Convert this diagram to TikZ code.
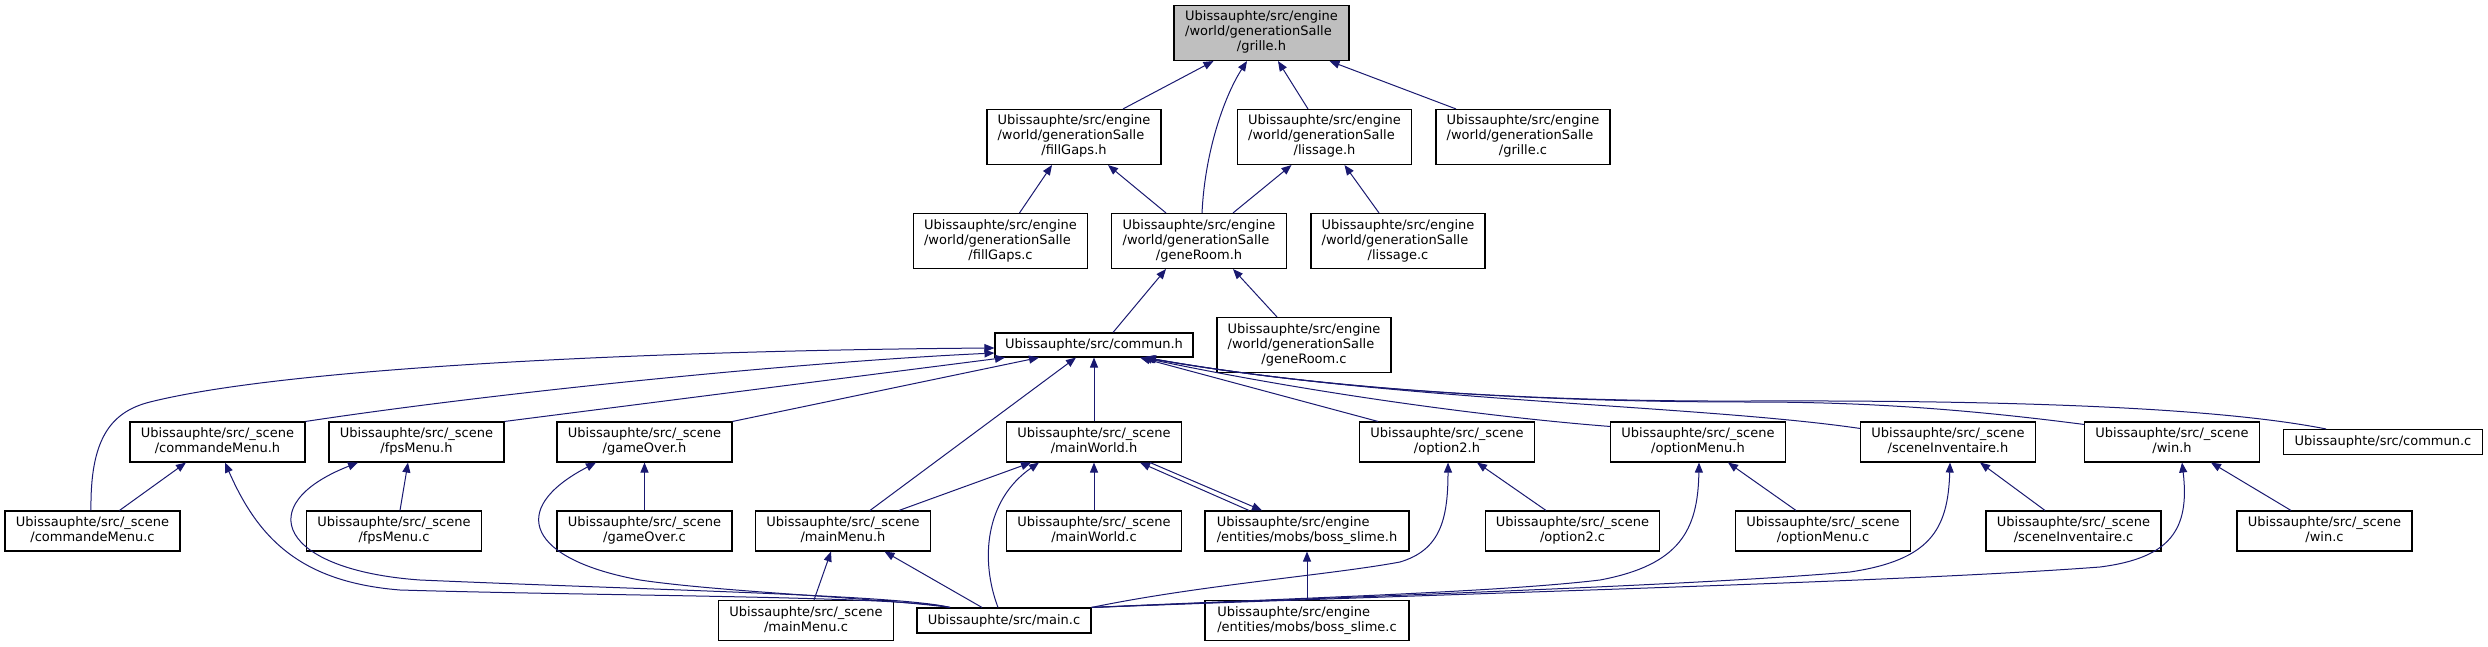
\documentclass[tikz,border=0pt]{standalone}
\usepackage{fontspec}
\setmainfont{DejaVu Sans}
\usetikzlibrary{arrows.meta}
\definecolor{edgec}{HTML}{191970}
\definecolor{rootfill}{HTML}{BFBFBF}
\newcommand{\lblii}[2]{\begin{tabular}{@{}l@{}}#1\\\multicolumn{1}{@{}c@{}}{#2}\end{tabular}}
\newcommand{\lbliii}[3]{\begin{tabular}{@{}l@{}}#1\\#2\\\multicolumn{1}{@{}c@{}}{#3}\end{tabular}}
\begin{document}
\begin{tikzpicture}[x=1pt,y=-1pt,
  box/.style={draw=black,fill=white,line width=1.1pt,inner sep=0pt,minimum width=175pt,font=\fontsize{13}{15}\selectfont},
  bi/.style={box,minimum height=25pt},
  bii/.style={box,minimum height=40pt},
  biii/.style={box,minimum height=55pt},
  edg/.style={draw=edgec,line width=1pt,-{Triangle[length=10pt,width=8pt]}}]
\useasboundingbox (0,0) rectangle (2488,647);
% row 0-2
\node[biii,fill=rootfill] (grilleH) at (1261.5,33) {\lbliii{Ubissauphte/src/engine}{/world/generationSalle}{/grille.h}};
\node[biii,minimum width=174pt] (fillGapsH) at (1074,137) {\lbliii{Ubissauphte/src/engine}{/world/generationSalle}{/fillGaps.h}};
\node[biii,minimum width=174pt] (lissageH) at (1324.5,137) {\lbliii{Ubissauphte/src/engine}{/world/generationSalle}{/lissage.h}};
\node[biii,minimum width=174pt] (grilleC) at (1523,137) {\lbliii{Ubissauphte/src/engine}{/world/generationSalle}{/grille.c}};
\node[biii,minimum width=174pt] (fillGapsC) at (1000.5,241) {\lbliii{Ubissauphte/src/engine}{/world/generationSalle}{/fillGaps.c}};
\node[biii] (geneRoomH) at (1199,241) {\lbliii{Ubissauphte/src/engine}{/world/generationSalle}{/geneRoom.h}};
\node[biii,minimum width=174pt] (lissageC) at (1398,241) {\lbliii{Ubissauphte/src/engine}{/world/generationSalle}{/lissage.c}};
\node[bi,minimum width=198pt,minimum height=24pt] (communH) at (1094,345) {Ubissauphte/src/commun.h};
\node[biii,minimum width=174pt] (geneRoomC) at (1304,345) {\lbliii{Ubissauphte/src/engine}{/world/generationSalle}{/geneRoom.c}};
% row 3
\node[bii] (cmdH) at (217.5,442) {\lblii{Ubissauphte/src/\_scene}{/commandeMenu.h}};
\node[bii] (fpsH) at (416.5,442) {\lblii{Ubissauphte/src/\_scene}{/fpsMenu.h}};
\node[bii] (goH) at (644.5,442) {\lblii{Ubissauphte/src/\_scene}{/gameOver.h}};
\node[bii] (mwH) at (1094,442) {\lblii{Ubissauphte/src/\_scene}{/mainWorld.h}};
\node[bii] (opt2H) at (1447,442) {\lblii{Ubissauphte/src/\_scene}{/option2.h}};
\node[bii] (optMH) at (1698,442) {\lblii{Ubissauphte/src/\_scene}{/optionMenu.h}};
\node[bii] (invH) at (1948,442) {\lblii{Ubissauphte/src/\_scene}{/sceneInventaire.h}};
\node[bii] (winH) at (2172,442) {\lblii{Ubissauphte/src/\_scene}{/win.h}};
\node[bi,minimum width=199pt] (communC) at (2383,442) {Ubissauphte/src/commun.c};
% row 4
\node[bii] (cmdC) at (92.5,531) {\lblii{Ubissauphte/src/\_scene}{/commandeMenu.c}};
\node[bii] (fpsC) at (394,531) {\lblii{Ubissauphte/src/\_scene}{/fpsMenu.c}};
\node[bii] (goC) at (644.5,531) {\lblii{Ubissauphte/src/\_scene}{/gameOver.c}};
\node[bii] (mmH) at (843,531) {\lblii{Ubissauphte/src/\_scene}{/mainMenu.h}};
\node[bii] (mwC) at (1094,531) {\lblii{Ubissauphte/src/\_scene}{/mainWorld.c}};
\node[bii,minimum width=204pt] (bossH) at (1307,531) {\lblii{Ubissauphte/src/engine}{/entities/mobs/boss\_slime.h}};
\node[bii,minimum width=174pt] (opt2C) at (1572.5,531) {\lblii{Ubissauphte/src/\_scene}{/option2.c}};
\node[bii] (optMC) at (1823,531) {\lblii{Ubissauphte/src/\_scene}{/optionMenu.c}};
\node[bii] (invC) at (2073.5,531) {\lblii{Ubissauphte/src/\_scene}{/sceneInventaire.c}};
\node[bii] (winC) at (2324.5,531) {\lblii{Ubissauphte/src/\_scene}{/win.c}};
% row 5
\node[bii] (mmC) at (806,620.5) {\lblii{Ubissauphte/src/\_scene}{/mainMenu.c}};
\node[bi,minimum width=174pt] (mainC) at (1004,620.5) {Ubissauphte/src/main.c};
\node[bii,minimum width=204pt] (bossC) at (1307,620.5) {\lblii{Ubissauphte/src/engine}{/entities/mobs/boss\_slime.c}};

% top edges
\draw[edg] ([xshift=49pt]fillGapsH.north) -- ([xshift=-48pt]grilleH.south);
\draw[edg] ([xshift=-16.5pt]lissageH.north) -- ([xshift=16.5pt]grilleH.south);
\draw[edg] ([xshift=-67pt]grilleC.north) -- ([xshift=68pt]grilleH.south);
\draw[edg] ([xshift=3pt]geneRoomH.north) .. controls (1205,150) and (1225,95) .. ([xshift=-14.5pt]grilleH.south);
\draw[edg] ([xshift=19pt]fillGapsC.north) -- ([xshift=-22pt]fillGapsH.south);
\draw[edg] ([xshift=-33pt]geneRoomH.north) -- ([xshift=34pt]fillGapsH.south);
\draw[edg] ([xshift=34pt]geneRoomH.north) -- ([xshift=-33pt]lissageH.south);
\draw[edg] ([xshift=-19pt]lissageC.north) -- ([xshift=20pt]lissageH.south);
\draw[edg] ([xshift=19pt]communH.north) -- ([xshift=-33pt]geneRoomH.south);
\draw[edg] ([xshift=-27pt]geneRoomC.north) -- ([xshift=34pt]geneRoomH.south);

% into commun.h from the left
\draw[edg] ([xshift=-1.5pt]cmdC.north) .. controls (90,440) and (110,412) .. (150,402) .. controls (300,364.5) and (700,350) .. ([yshift=-3pt]communH.west);
\draw[edg] (cmdH.north east) .. controls (500,392) and (800,362) .. ([yshift=-8pt]communH.west);
\draw[edg] (fpsH.north east) -- ([xshift=-89pt]communH.south);
\draw[edg] (goH.north east) -- ([xshift=-55pt]communH.south);
\draw[edg] ([xshift=27pt]mmH.north) -- ([xshift=-18pt]communH.south);
\draw[edg] (mwH.north) -- (communH.south);
% into commun.h from the right
\draw[edg] ([xshift=-69pt]opt2H.north) -- ([xshift=46pt]communH.south);
\draw[edg] ([yshift=-5pt]optMH.north west) .. controls (1500,418) and (1320,395) .. ([xshift=48pt]communH.south);
\draw[edg] ([yshift=-7pt]invH.north west) .. controls (1700,405) and (1400,402) .. ([xshift=50pt]communH.south);
\draw[edg] ([yshift=-3pt]winH.north west) .. controls (1950,407) and (1850,402) .. (1750,402) .. controls (1500,402) and (1300,385) .. ([xshift=51pt]communH.south);
\draw[edg] ([xshift=-57pt]communC.north) .. controls (2230,410) and (2050,400) .. (1750,401) .. controls (1500,402) and (1300,385) .. ([xshift=52pt]communH.south);

% .c -> .h
\draw[edg] ([xshift=27pt]cmdC.north) -- ([xshift=-31.5pt]cmdH.south);
\draw[edg] ([xshift=6pt]fpsC.north) -- ([xshift=-8.5pt]fpsH.south);
\draw[edg] (goC.north) -- (goH.south);
\draw[edg] ([xshift=8pt]mmC.north) -- ([xshift=-12pt]mmH.south);
\draw[edg] (mwC.north) -- (mwH.south);
\draw[edg] ([xshift=-26.5pt]opt2C.north) -- ([xshift=30pt]opt2H.south);
\draw[edg] ([xshift=-27pt]optMC.north) -- ([xshift=30pt]optMH.south);
\draw[edg] ([xshift=-28.5pt]invC.north) -- ([xshift=32pt]invH.south);
\draw[edg] ([xshift=-33.5pt]winC.north) -- ([xshift=39pt]winH.south);
\draw[edg] (bossC.north) -- (bossH.south);

% mainWorld / bossSlime / mainMenu
\draw[edg] ([xshift=56pt]mmH.north) -- ([xshift=-63pt]mwH.south);
\draw[edg] ([xshift=-58pt]bossH.north) -- ([xshift=46pt]mwH.south);
\draw[edg] ([xshift=56pt]mwH.south) -- ([xshift=-45pt]bossH.north);

% main.c edges
\draw[edg] ([xshift=-54pt]mainC.north) .. controls (900,596) and (600,596) .. (400,590) .. controls (300,582) and (258,538) .. ([xshift=7.5pt]cmdH.south);
\draw[edg] ([xshift=-54pt]mainC.north) .. controls (900,595) and (650,590) .. (420,580) .. controls (280,570) and (250,505) .. ([xshift=-58.5pt]fpsH.south);
\draw[edg] ([xshift=-54pt]mainC.north) .. controls (880,598) and (720,592) .. (640,580) .. controls (530,560) and (505,510) .. ([xshift=-48.5pt]goH.south);
\draw[edg] ([xshift=-22pt]mainC.north) -- ([xshift=41.5pt]mmH.south);
\draw[edg] ([xshift=-6pt]mainC.north) .. controls (980,560) and (985,500) .. ([xshift=-55pt]mwH.south);
\draw[edg] (mainC.north east) .. controls (1200,585) and (1330,575) .. (1400,562) .. controls (1440,550) and (1448,520) .. ([xshift=1pt]opt2H.south);
\draw[edg] (mainC.north east) .. controls (1300,598) and (1500,592) .. (1600,580) .. controls (1680,565) and (1698,530) .. ([xshift=1pt]optMH.south);
\draw[edg] (mainC.north east) .. controls (1400,595) and (1700,585) .. (1850,572) .. controls (1930,560) and (1948,530) .. ([xshift=2pt]invH.south);
\draw[edg] (mainC.north east) .. controls (1500,592) and (1900,582) .. (2100,567) .. controls (2170,558) and (2190,530) .. ([xshift=10pt]winH.south);
\end{tikzpicture}
\end{document}
